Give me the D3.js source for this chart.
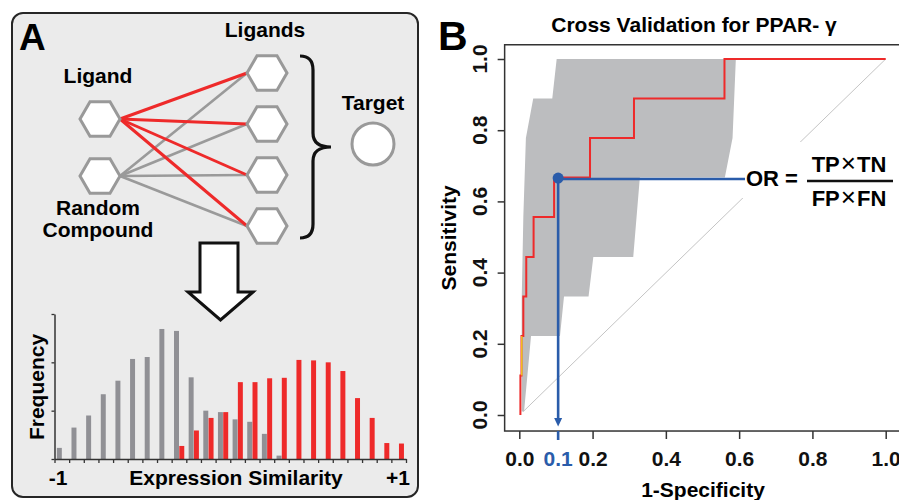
<!DOCTYPE html>
<html>
<head>
<meta charset="utf-8">
<script src="https://cdn.jsdelivr.net/npm/d3@7"></script>
<style>
body { margin: 0; background: #fff; }
text { font-family: "Liberation Sans", Arial, sans-serif; font-weight: bold; }
</style>
</head>
<body>
<div id="fig"></div>
<script>
// ---- panel A : histogram of expression similarity
const binCount = 24
const grayStart = 0
const grayFreq = [2.3, 6.5, 9.0, 13.4, 16.2, 20.7, 21.1, 26.9, 26.5, 16.9, 10.0, 9.7, 8.2, 7.7, 5.2, 0.7]
const redStart = 8
const redFreq = [2.7, 5.9, 8.5, 9.7, 15.9, 15.9, 16.7, 16.8, 20.5, 20.4, 20.0, 18.2, 12.6, 8.5, 3.3, 3.2]
const freqTicks = [0, 10, 20, 30]

// ---- panel A : network
const queryNodes = ["Ligand", "Random Compound"]
const ligandRows = ["L1", "L2", "L3", "L4"]

// ---- panel B : ROC
const rocFpr = [0.003, 0.003, 0.006, 0.006, 0.011, 0.011, 0.019, 0.019, 0.039, 0.039, 0.095, 0.095, 0.193, 0.193, 0.313, 0.313, 0.56, 0.56, 1.0]
const rocTpr = [0, 0.111, 0.111, 0.222, 0.222, 0.333, 0.333, 0.444, 0.444, 0.556, 0.556, 0.667, 0.667, 0.778, 0.778, 0.889, 0.889, 1, 1]
const ciLeftFpr = [0.102, 0.090, 0.038, 0.018, 0.011, 0.0065, 0.0065]
const ciLeftTpr = [1.0, 0.889, 0.889, 0.778, 0.556, 0.32, 0.01]
const ciRightFpr = [0.013, 0.032, 0.111, 0.122, 0.189, 0.202, 0.311, 0.329, 0.561, 0.582, 0.591]
const ciRightTpr = [0.01, 0.222, 0.222, 0.333, 0.333, 0.444, 0.444, 0.667, 0.667, 0.778, 1.0]
const diagFpr = [0.011, 1]
const diagTpr = [0.01, 1]
const cutFpr = 0.106
const cutTpr = 0.667
const rocTicks = [0, 0.2, 0.4, 0.6, 0.8, 1.0]

const RED = "#ee2a2a"
const GRAY = "#909095"
const BLUE = "#2a5caa"

const svg = d3.select("#fig").append("svg")
    .attr("width", 899)
    .attr("height", 500)

// ================= panel A =================
svg.append("rect")
    .attr("x", 12).attr("y", 13)
    .attr("width", 406).attr("height", 484)
    .attr("rx", 11)
    .attr("fill", "#ebebeb")
    .attr("stroke", "#262626")
    .attr("stroke-width", 2)

svg.append("text").attr("x", 19).attr("y", 50).attr("font-size", 37).text("A")

const qY = d3.scalePoint().domain(queryNodes).range([119, 176])
const rowY = d3.scalePoint().domain(ligandRows).range([73, 226])
const leftX = 100, rightX = 267, hexR = 20

const hexPoints = (cx, cy) => d3.range(6)
    .map(k => [cx + hexR * Math.cos(k * Math.PI / 3), cy + hexR * Math.sin(k * Math.PI / 3)].join(","))
    .join(" ")

const links = []
queryNodes.forEach(q => ligandRows.forEach(r => links.push({q, r})))

const linkG = svg.append("g")
linkG.selectAll("line.gray").data(links.filter(d => d.q !== "Ligand")).join("line")
    .attr("x1", leftX + hexR).attr("y1", d => qY(d.q))
    .attr("x2", rightX - hexR).attr("y2", d => rowY(d.r))
    .attr("stroke", "#9a9a9a").attr("stroke-width", 2.6)
linkG.selectAll("line.red").data(links.filter(d => d.q === "Ligand")).join("line")
    .attr("x1", leftX + hexR).attr("y1", d => qY(d.q))
    .attr("x2", rightX - hexR).attr("y2", d => rowY(d.r))
    .attr("stroke", RED).attr("stroke-width", 3)

svg.selectAll("polygon.q").data(queryNodes).join("polygon")
    .attr("points", d => hexPoints(leftX, qY(d)))
    .attr("fill", "#fff").attr("stroke", "#999").attr("stroke-width", 3)
svg.selectAll("polygon.r").data(ligandRows).join("polygon")
    .attr("points", d => hexPoints(rightX, rowY(d)))
    .attr("fill", "#fff").attr("stroke", "#999").attr("stroke-width", 3)

svg.append("text").attr("x", 265).attr("y", 37).attr("text-anchor", "middle").attr("font-size", 21).text("Ligands")
svg.append("text").attr("x", 98).attr("y", 83).attr("text-anchor", "middle").attr("font-size", 21).text("Ligand")
svg.append("text").attr("x", 98).attr("y", 215).attr("text-anchor", "middle").attr("font-size", 21).text("Random")
svg.append("text").attr("x", 98).attr("y", 237).attr("text-anchor", "middle").attr("font-size", 21).text("Compound")
svg.append("text").attr("x", 373).attr("y", 110).attr("text-anchor", "middle").attr("font-size", 21).text("Target")

// brace
svg.append("path")
    .attr("d", "M300,56 Q313,56 313,70 L313,133 Q313,147 331,147 Q313,147 313,161 L313,224 Q313,238 300,238")
    .attr("fill", "none").attr("stroke", "#111").attr("stroke-width", 3.2)

svg.append("circle").attr("cx", 373).attr("cy", 144).attr("r", 21)
    .attr("fill", "#fff").attr("stroke", "#999").attr("stroke-width", 3)

// big arrow
svg.append("polygon")
    .attr("points", "200,243 238,243 238,292 253,292 220.5,320 188,292 200,292")
    .attr("fill", "#fff").attr("stroke", "#111").attr("stroke-width", 3)

// histogram
const xh = d3.scaleLinear().domain([0, binCount]).range([54.5, 406])
const yh = d3.scaleLinear().domain([0, 30]).range([459, 314])
const bw = xh(1) - xh(0)

const histG = svg.append("g")
histG.selectAll("rect.gray").data(grayFreq).join("rect")
    .attr("x", (d, i) => xh(grayStart + i) + 0.16 * bw)
    .attr("width", 0.34 * bw)
    .attr("y", d => yh(d))
    .attr("height", d => yh(0) - yh(d))
    .attr("fill", GRAY)
histG.selectAll("rect.red").data(redFreq).join("rect")
    .attr("x", (d, i) => xh(redStart + i) + 0.52 * bw)
    .attr("width", 0.34 * bw)
    .attr("y", d => yh(d))
    .attr("height", d => yh(0) - yh(d))
    .attr("fill", RED)

const hxAxis = histG.append("g")
    .attr("transform", `translate(0,${yh(0)})`)
    .call(d3.axisBottom(xh).tickValues(d3.range(binCount + 1)).tickSize(4).tickSizeOuter(0).tickFormat(""))
const hyAxis = histG.append("g")
    .attr("transform", `translate(${xh(0)},0)`)
    .call(d3.axisLeft(yh).tickValues(freqTicks).tickSize(3).tickSizeOuter(0).tickFormat(""))
;[hxAxis, hyAxis].forEach(a => {
    a.selectAll("line").attr("stroke", "#333").attr("stroke-width", 1.3)
    a.select(".domain").attr("stroke", "#333").attr("stroke-width", 1.5)
})

svg.append("text").attr("x", 58).attr("y", 485).attr("text-anchor", "middle").attr("font-size", 21).text("-1")
svg.append("text").attr("x", 398).attr("y", 485).attr("text-anchor", "middle").attr("font-size", 21).text("+1")
svg.append("text").attr("x", 236).attr("y", 485).attr("text-anchor", "middle").attr("font-size", 21).text("Expression Similarity")
svg.append("text").attr("transform", "translate(44,387) rotate(-90)")
    .attr("text-anchor", "middle").attr("font-size", 21).text("Frequency")

// ================= panel B =================
svg.append("text").attr("x", 438).attr("y", 50).attr("font-size", 41).text("B")
svg.append("text").attr("x", 694).attr("y", 32).attr("text-anchor", "middle").attr("font-size", 21)
    .text("Cross Validation for PPAR- γ")

const x = d3.scaleLinear().domain([0, 1]).range([519.3, 885.7])
const y = d3.scaleLinear().domain([0, 1]).range([415, 59])
const pts = (xs, ys) => xs.map((v, i) => [x(v), y(ys[i])])

const lineGen = d3.line()

// chance diagonal
svg.append("path").attr("d", lineGen(pts(diagFpr, diagTpr)))
    .attr("fill", "none").attr("stroke", "#c4c4c4").attr("stroke-width", 1)

// confidence band
const band = pts(ciLeftFpr, ciLeftTpr).concat(pts(ciRightFpr, ciRightTpr))
svg.append("path").attr("d", lineGen(band) + "Z").attr("fill", "#bcbdbf")

// ROC curve
svg.append("path").attr("d", lineGen(pts(rocFpr, rocTpr)))
    .attr("fill", "none").attr("stroke", RED).attr("stroke-width", 2)
svg.append("line")
    .attr("x1", x(0.0068)).attr("x2", x(0.0068))
    .attr("y1", y(0.111)).attr("y2", y(0.222))
    .attr("stroke", "#f2e01c").attr("stroke-width", 1.2)

// formula backdrop
svg.append("rect").attr("x", 742).attr("y", 142).attr("width", 157).attr("height", 56).attr("fill", "#fff")

// cut-off marker
const cy0 = y(cutTpr) + 1.5
svg.append("line").attr("x1", x(cutFpr)).attr("x2", 745).attr("y1", cy0).attr("y2", cy0)
    .attr("stroke", BLUE).attr("stroke-width", 2.6)
svg.append("line").attr("x1", x(cutFpr)).attr("x2", x(cutFpr)).attr("y1", cy0).attr("y2", 420)
    .attr("stroke", BLUE).attr("stroke-width", 2.6)
svg.append("polygon")
    .attr("points", `${x(cutFpr) - 4},418 ${x(cutFpr) + 4},418 ${x(cutFpr)},426.5`)
    .attr("fill", BLUE)
svg.append("circle").attr("cx", x(cutFpr)).attr("cy", cy0 - 1).attr("r", 5.5).attr("fill", BLUE)

// formula
svg.append("text").attr("x", 746).attr("y", 186).attr("font-size", 22).text("OR =")
const frac = (txt, yy) => {
    const t = svg.append("text").attr("x", 849).attr("y", yy).attr("text-anchor", "middle").attr("font-size", 22)
    t.append("tspan").text(txt[0])
    t.append("tspan").attr("font-weight", "normal").attr("font-size", 26).attr("dx", 1).text("×")
    t.append("tspan").attr("dx", 1).text(txt[1])
}
frac(["TP", "TN"], 172)
frac(["FP", "FN"], 206)
svg.append("line").attr("x1", 807).attr("x2", 893).attr("y1", 181).attr("y2", 181)
    .attr("stroke", "#111").attr("stroke-width", 2.5)

// box + axes
svg.append("rect")
    .attr("x", x(-0.04)).attr("y", y(1.04))
    .attr("width", x(1.04) - x(-0.04)).attr("height", y(-0.045) - y(1.04))
    .attr("fill", "none").attr("stroke", "#333").attr("stroke-width", 1.5)

const bottom = y(-0.045), left = x(-0.04)
const xAxisG = svg.append("g").attr("transform", `translate(0,${bottom})`)
    .call(d3.axisBottom(x).tickValues(rocTicks).tickSize(8).tickPadding(12).tickFormat(d3.format(".1f")))
xAxisG.select(".domain").remove()
xAxisG.selectAll("line").attr("stroke", "#333").attr("stroke-width", 1.5)
xAxisG.selectAll("text").attr("font-size", 21).attr("fill", "#111")
    .style("font-family", "'Liberation Sans', Arial, sans-serif").style("font-weight", "bold")

svg.append("line").attr("x1", x(cutFpr)).attr("x2", x(cutFpr)).attr("y1", bottom).attr("y2", bottom + 9)
    .attr("stroke", BLUE).attr("stroke-width", 2.6)
svg.append("text").attr("x", x(cutFpr)).attr("y", 466).attr("text-anchor", "middle")
    .attr("font-size", 21).attr("fill", BLUE).text("0.1")

const yAxisG = svg.append("g").attr("transform", `translate(${left},0)`)
    .call(d3.axisLeft(y).tickValues(rocTicks).tickSize(7).tickFormat(""))
yAxisG.select(".domain").remove()
yAxisG.selectAll("line").attr("stroke", "#333").attr("stroke-width", 1.5)
svg.selectAll("text.ylab").data(rocTicks).join("text")
    .attr("class", "ylab")
    .attr("transform", d => `translate(487,${y(d)}) rotate(-90)`)
    .attr("text-anchor", "middle").attr("font-size", 21).attr("fill", "#111")
    .text(d3.format(".1f"))

svg.append("text").attr("transform", `translate(456,${(y(1.04) + bottom) / 2}) rotate(-90)`)
    .attr("text-anchor", "middle").attr("font-size", 21).text("Sensitivity")
svg.append("text").attr("x", 703).attr("y", 497).attr("text-anchor", "middle").attr("font-size", 21).text("1-Specificity")
</script>
</body>
</html>
